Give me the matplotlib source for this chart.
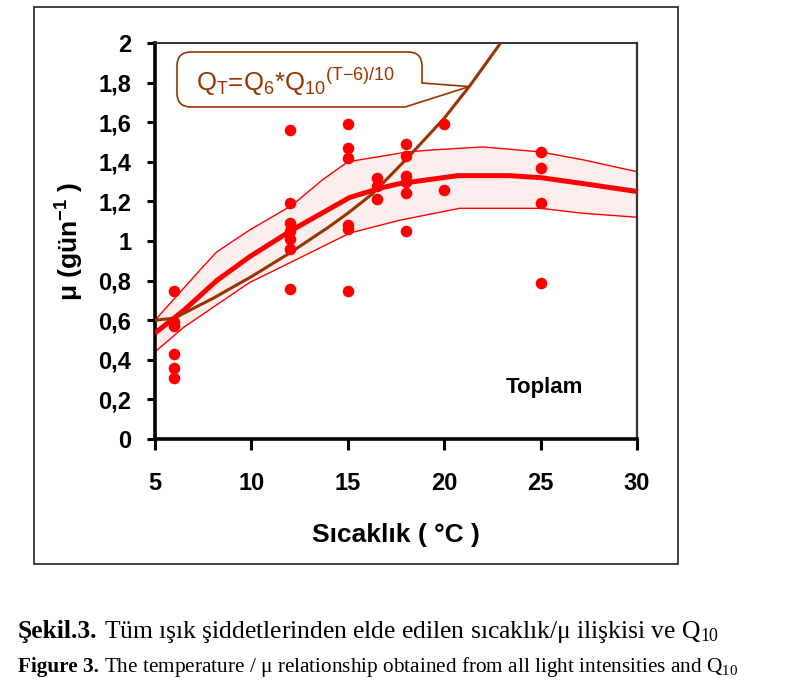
import matplotlib
matplotlib.use('Agg')
import matplotlib.pyplot as plt
from matplotlib.patches import Rectangle, PathPatch
from matplotlib.path import Path
from matplotlib.transforms import IdentityTransform
import numpy as np

# ---- data ----
temp_obs = [6, 6, 6, 6, 6, 6,
            12, 12, 12, 12, 12, 12, 12,
            15, 15, 15, 15, 15, 15,
            16.5, 16.5, 16.5,
            18, 18, 18, 18, 18, 18,
            20, 20,
            25, 25, 25, 25]
mu_obs = [0.75, 0.59, 0.57, 0.43, 0.36, 0.31,
          1.56, 1.19, 1.09, 1.05, 1.01, 0.96, 0.76,
          1.59, 1.47, 1.42, 1.08, 1.06, 0.75,
          1.32, 1.28, 1.21,
          1.49, 1.43, 1.33, 1.30, 1.24, 1.05,
          1.59, 1.26,
          1.45, 1.37, 1.19, 0.79]

fit_x = [5, 6.5, 8.2, 9.9, 12.1, 15.1, 16.8, 17.7, 20.7, 23.4, 25, 27.2, 30]
fit_y = [0.535, 0.65, 0.80, 0.92, 1.055, 1.22, 1.27, 1.29, 1.33, 1.33, 1.32, 1.29, 1.25]

upper_x = [5, 7.3, 8.2, 9.9, 12.1, 13.7, 15, 18.1, 19.4, 22, 25, 27.2, 30]
upper_y = [0.60, 0.85, 0.945, 1.055, 1.18, 1.31, 1.40, 1.45, 1.46, 1.475, 1.45, 1.41, 1.35]

lower_x = [5, 6.5, 9.9, 12.1, 15.1, 17.7, 20.8, 25, 27.2, 30]
lower_y = [0.44, 0.565, 0.79, 0.895, 1.04, 1.105, 1.165, 1.165, 1.14, 1.12]

q10_x = [5, 6, 8, 10, 12, 14, 15, 16.3, 18.1, 20, 21.3, 23.0]
q10_y = [0.60, 0.61, 0.71, 0.82, 0.94, 1.07, 1.14, 1.24, 1.42, 1.62, 1.78, 2.01]

callout_target = (21.3, 1.78)

xticks = [5, 10, 15, 20, 25, 30]
yticks = [0, 0.2, 0.4, 0.6, 0.8, 1.0, 1.2, 1.4, 1.6, 1.8, 2.0]
ytick_labels = ['0', '0,2', '0,4', '0,6', '0,8', '1', '1,2', '1,4', '1,6', '1,8', '2']

RED = '#ff0000'
BROWN = '#993300'
SANS = 'Liberation Sans'
SERIF = 'Liberation Serif'
W, H = 789, 684

fig = plt.figure(figsize=(W / 100, H / 100), dpi=100)
ax = fig.add_axes([155 / W, 1 - 439 / H, 482 / W, 396 / H])

# outer chart frame
fig.patches.append(Rectangle((34 / W, 1 - 564 / H), 644 / W, 557 / H,
                             transform=fig.transFigure, fill=False,
                             ec='#222222', lw=1.2))

# confidence band
band_x = np.concatenate([upper_x, lower_x[::-1]])
band_y = np.concatenate([upper_y, lower_y[::-1]])
ax.fill(band_x, band_y, color='#fdeeee', lw=0, zorder=1)
ax.plot(upper_x, upper_y, color=RED, lw=1.0, zorder=2)
ax.plot(lower_x, lower_y, color=RED, lw=1.0, zorder=2)

# fitted curve
ax.plot(fit_x, fit_y, color=RED, lw=3.6, zorder=3, solid_capstyle='butt')

# Q10 curve
ax.plot(q10_x, q10_y, color=BROWN, lw=2.2, zorder=4)

# observations
ax.scatter(temp_obs, mu_obs, s=70, color=RED, zorder=5, linewidths=0)

ax.set_xlim(5, 30)
ax.set_ylim(0, 2)
ax.set_xticks(xticks)
ax.set_xticklabels([str(t) for t in xticks])
ax.set_yticks(yticks)
ax.set_yticklabels(ytick_labels)

for lab in ax.get_xticklabels() + ax.get_yticklabels():
    lab.set_fontfamily(SANS)
    lab.set_fontweight('bold')
    lab.set_fontsize(17)

ax.tick_params(axis='x', direction='out', length=8, width=2.2, pad=16)
ax.tick_params(axis='y', direction='out', length=6, width=2.2, pad=11)

ax.spines['left'].set_linewidth(2.6)
ax.spines['bottom'].set_linewidth(2.6)
ax.spines['top'].set_linewidth(1.4)
ax.spines['right'].set_linewidth(1.6)
ax.spines['right'].set_color('#333333')
ax.spines['top'].set_color('#333333')

ax.set_xlabel('Sıcaklık ( °C )', fontfamily=SANS, fontweight='bold', fontsize=19, va='center')
ax.xaxis.set_label_coords(0.5, (439 - 535) / 396)
ax.set_ylabel(r'μ (gün$\mathregular{^{-1}}$ )', fontfamily=SANS, fontweight='bold', fontsize=19, va='center')
ax.yaxis.set_label_coords((70 - 155) / 482, 0.5)

ax.text(25.2, 0.26, 'Toplam', fontfamily=SANS, fontweight='bold', fontsize=16,
        ha='center', va='center', zorder=6)

# ---- callout (shape in pixel coordinates, tip at the data point) ----
tip_px = ax.transData.transform(callout_target)
L, R, T, B, r = 177, 422, 52, 107, 14


def P(x, y):
    return (x, H - y)


verts = [P(L + r, T), P(R - r, T), P(R, T), P(R, T + r), P(R, 83),
         (tip_px[0], tip_px[1]), P(405, B), P(L + r, B), P(L, B), P(L, B - r),
         P(L, T + r), P(L, T), P(L + r, T), P(L + r, T)]
codes = [Path.MOVETO, Path.LINETO, Path.CURVE3, Path.CURVE3, Path.LINETO,
         Path.LINETO, Path.LINETO, Path.LINETO, Path.CURVE3, Path.CURVE3,
         Path.LINETO, Path.CURVE3, Path.CURVE3, Path.CLOSEPOLY]
callout = PathPatch(Path(verts, codes), transform=IdentityTransform(),
                    fc='white', ec=BROWN, lw=1.2, zorder=7, clip_on=False)
ax.add_patch(callout)
fig.text(296 / W, 1 - 82 / H,
         r'Q$\mathregular{_T}$=Q$\mathregular{_6}$*Q$\mathregular{_{10}}$$\mathregular{^{(T{-}6)/10}}$',
         fontfamily=SANS, fontsize=18.5, color=BROWN, ha='center', va='center', zorder=8)

# ---- captions ----
fig.canvas.draw()
renderer = fig.canvas.get_renderer()


def caption(y_px, bold, rest, size):
    t1 = fig.text(18 / W, 1 - y_px / H, bold, fontfamily=SERIF, fontweight='bold',
                  fontsize=size, va='baseline', ha='left')
    bb = t1.get_window_extent(renderer)
    gap = size * 100 / 72 * 0.25
    fig.text((bb.x1 + gap) / W, 1 - y_px / H, rest, fontfamily=SERIF,
             fontsize=size, va='baseline', ha='left')


caption(638, 'Şekil.3.',
        r'Tüm ışık şiddetlerinden elde edilen sıcaklık/μ ilişkisi ve Q$\mathregular{_{10}}$', 18.4)
caption(672, 'Figure 3.',
        r'The temperature / μ relationship obtained from all light intensities and Q$\mathregular{_{10}}$', 15.3)

fig.savefig('out.png', dpi=100)
